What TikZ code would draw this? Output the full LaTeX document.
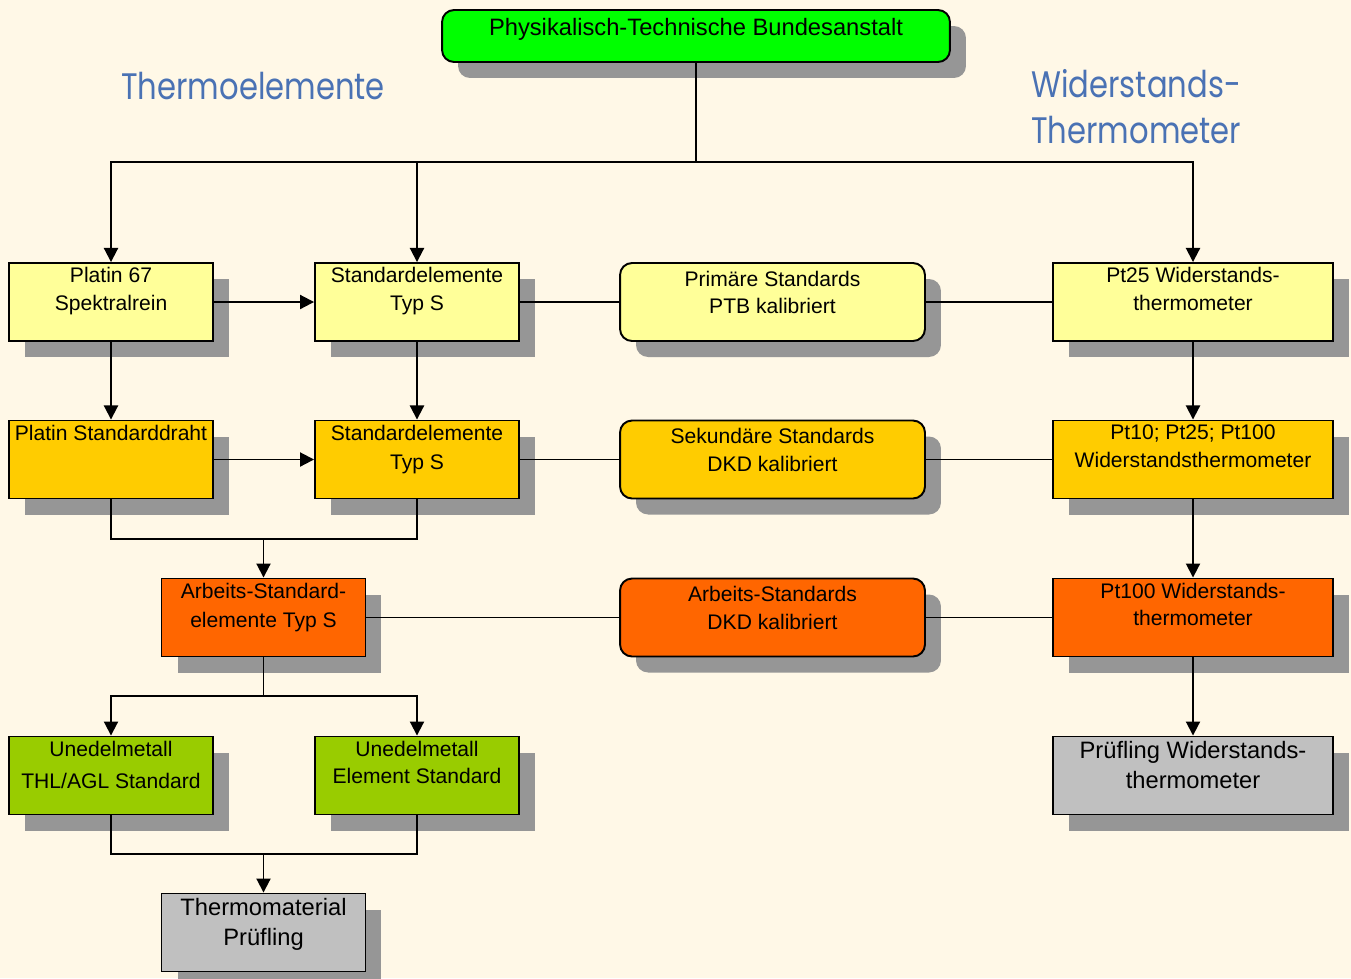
\documentclass[tikz,border=0pt]{standalone}
\usepackage{fontspec}
\setmainfont{Liberation Sans}
\newfontfamily\headfont[FakeStretch=0.83]{Poppins}
\usetikzlibrary{arrows.meta,shadows}

\definecolor{bgcream}{HTML}{FFF8E7}
\definecolor{ptbgreen}{HTML}{00FF00}
\definecolor{lightyel}{HTML}{FFFF99}
\definecolor{goldyel}{HTML}{FFCC00}
\definecolor{orangered}{HTML}{FF6600}
\definecolor{olivegreen}{HTML}{99CC00}
\definecolor{testgray}{HTML}{C0C0C0}
\definecolor{shadowgray}{HTML}{969696}
\definecolor{headblue}{HTML}{4A72B4}

\tikzset{
  box/.style={draw=black, line width=1.1pt, minimum width=4.08cm, minimum height=1.56cm, inner sep=0pt,
    drop shadow={shadow xshift=0.32cm, shadow yshift=-0.32cm, fill=shadowgray, opacity=1}},
  widebox/.style={box, minimum width=5.6cm},
  roundbox/.style={box, minimum width=6.1cm, rounded corners=0.24cm},
  txt/.style={anchor=north, align=center, inner sep=3pt, font=\fontsize{12}{15.5}\selectfont},
  bigtxt/.style={txt, font=\fontsize{13.5}{17}\selectfont},
  head/.style={text=headblue, inner sep=0pt, font=\headfont\fontsize{21}{26}\selectfont},
  conn/.style={line width=1.1pt},
  arr/.style={conn, -{Triangle[length=8pt,width=8pt]}}
}

\begin{document}
\begin{tikzpicture}[x=0.02cm, y=-0.02cm]
			%%%%% START %%%%%
			
			\fill[bgcream] (0,0) rectangle (1351,978);
			\useasboundingbox (0,0) rectangle (1351,978);
			
			\node[head, anchor=base west] (thermo) at (121,99) {Thermoelemente};
			\node[head, anchor=base west] (wider) at (1031,97) {Widerstands-};
			\node[head, anchor=base west] (widerb) at (1031,143) {Thermometer};
			
			\node[box, fill=ptbgreen, rounded corners=0.24cm, minimum width=10.16cm, minimum height=1.04cm,
			  label={[bigtxt, yshift=-2pt]north:Physikalisch-Technische Bundesanstalt}] (ptb) at (696,36) {};
			
			\node[box, fill=lightyel, label={[txt]north:Platin 67\\Spektralrein}] (pt67) at (111,302) {};
			\node[box, fill=lightyel, label={[txt]north:Standardelemente\\Typ S}] (std1) at (417,302) {};
			\node[roundbox, fill=lightyel, label={[txt, yshift=-2pt]north:Primäre Standards\\PTB kalibriert}] (prim) at (772.5,302) {};
			\node[widebox, fill=lightyel, label={[txt]north:Pt25 Widerstands-\\thermometer}] (pt25) at (1193,302) {};
			
			\node[box, fill=goldyel, label={[txt]north:Platin Standarddraht}] (pstd) at (111,459.5) {};
			\node[box, fill=goldyel, label={[txt, font=\fontsize{12}{16.5}\selectfont]north:Standardelemente\\Typ S}] (std2) at (417,459.5) {};
			\node[roundbox, fill=goldyel, label={[txt, yshift=-2pt]north:Sekundäre Standards\\DKD kalibriert}] (sek) at (772.5,459.5) {};
			\node[widebox, fill=goldyel, label={[txt]north:Pt10; Pt25; Pt100\\Widerstandsthermometer}] (pt10) at (1193,459.5) {};
			
			\node[box, fill=orangered, label={[txt, font=\fontsize{12}{16.5}\selectfont]north:Arbeits-Standard-\\elemente Typ S}] (arb) at (263.5,617.5) {};
			\node[roundbox, fill=orangered, label={[txt, yshift=-2pt]north:Arbeits-Standards\\DKD kalibriert}] (arbstd) at (772.5,617.5) {};
			\node[widebox, fill=orangered, label={[txt]north:Pt100 Widerstands-\\thermometer}] (pt100) at (1193,617.5) {};
			
			\node[box, fill=olivegreen, label={[txt, font=\fontsize{12}{18}\selectfont]north:Unedelmetall\\THL/AGL Standard}] (un1) at (111,775.5) {};
			\node[box, fill=olivegreen, label={[txt]north:Unedelmetall\\Element Standard}] (un2) at (417,775.5) {};
			\node[widebox, fill=testgray, label={[bigtxt]north:Prüfling Widerstands-\\thermometer}] (pruef) at (1193,775.5) {};
			
			\node[box, fill=testgray, label={[bigtxt]north:Thermomaterial\\Prüfling}] (therm) at (263.5,932.5) {};
			
			%%%%% CONNECTORS %%%%%
			
			\coordinate (top) at (696,162);
			\coordinate (j1) at (263.5,539);
			\coordinate (j2) at (263.5,696);
			\coordinate (j3) at (263.5,854);
			
			\draw[conn] (ptb.south) -- (top);
			\draw[arr] (top) -| (pt67.north);
			\draw[arr] (top) -| (std1.north);
			\draw[arr] (top) -| (pt25.north);
			
			\draw[arr] (pt67) -- (std1);
			\draw[conn] (std1) -- (prim) -- (pt25);
			\draw[arr] (pt67) -- (pstd);
			\draw[arr] (std1) -- (std2);
			\draw[arr] (pt25) -- (pt10);
			
			\draw[arr] (pstd) -- (std2);
			\draw[conn] (std2) -- (sek) -- (pt10);
			\draw[conn] (pstd.south) |- (j1) -| (std2.south);
			\draw[arr] (j1) -- (arb);
			\draw[arr] (pt10) -- (pt100);
			
			\draw[conn] (arb) -- (arbstd) -- (pt100);
			\draw[conn] (arb) -- (j2);
			\draw[arr] (j2) -| (un1.north);
			\draw[arr] (j2) -| (un2.north);
			\draw[arr] (pt100) -- (pruef);
			
			\draw[conn] (un1.south) |- (j3) -| (un2.south);
			\draw[arr] (j3) -- (therm);
			
			%%%%% END %%%%%
\end{tikzpicture}
\end{document}
